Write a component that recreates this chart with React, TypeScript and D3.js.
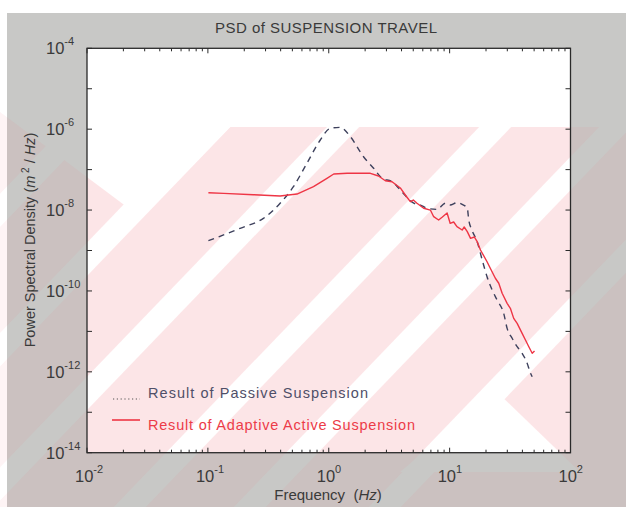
import React from 'react';
import * as d3 from 'd3';

// ---------- data ----------
const passiveFreq = [0.101, 0.185, 0.288, 0.396, 0.51, 0.659, 0.851, 1.03, 1.245, 1.51, 1.94, 2.35, 2.76,
  3.34, 3.91, 5.01, 5.73, 6.5, 7.87, 9.22, 10.1, 11.5, 12.7, 14.0, 14.4, 15.3, 16.9, 18.6, 20.4, 22.5,
  24.7, 28.0, 29.9, 32.9, 36.2, 39.8, 43.8, 46.7, 48.2];
const passivePsd = [1.75e-9, 3.54e-9, 6.25e-9, 1.47e-8, 3.78e-8, 1.43e-7, 5.4e-7, 1.05e-6, 1.11e-6, 6.52e-7,
  2.08e-7, 1.08e-7, 6.1e-8, 5.02e-8, 3.13e-8, 1.5e-8, 1.33e-8, 1.11e-8, 1.04e-8, 1.47e-8, 1.33e-8, 1.52e-8,
  1.39e-8, 1.11e-8, 5.68e-9, 3.21e-9, 1.65e-9, 5.82e-10, 2.25e-10, 1.05e-10, 5.97e-11, 2.8e-11, 1.19e-11,
  6.75e-12, 4.18e-12, 2.87e-12, 1.63e-12, 9.18e-13, 7.57e-13];

const activeFreq = [0.101, 0.135, 0.238, 0.396, 0.546, 0.748, 0.966, 1.1, 1.42, 2.21, 2.58, 2.94, 3.34, 3.91, 4.3,
  4.73, 5.01, 5.37, 6.1, 6.93, 7.38, 8.11, 8.71, 9.53, 10.1, 10.8, 11.5, 12.7, 13.2, 14.0, 14.9, 16.0, 16.9,
  18.0, 20.4, 21.7, 23.9, 25.5, 27.2, 29.9, 31.8, 33.9, 36.2, 39.8, 42.4, 45.2, 48.2, 50.4];
const activePsd = [2.69e-8, 2.59e-8, 2.4e-8, 2.23e-8, 2.49e-8, 3.78e-8, 6.1e-8, 7.8e-8, 8.11e-8, 8.11e-8, 6.95e-8,
  5.32e-8, 5.02e-8, 3.52e-8, 2.36e-8, 1.61e-8, 1.77e-8, 1.47e-8, 1.11e-8, 1.0e-8, 6.85e-9, 5.68e-9, 6.73e-9,
  8.45e-9, 4.71e-9, 5.07e-9, 3.88e-9, 3.21e-9, 3.81e-9, 2.92e-9, 2.0e-9, 2.16e-9, 1.65e-9, 1.03e-9, 5.28e-10,
  3.63e-10, 2.06e-10, 1.55e-10, 8.75e-11, 4.94e-11, 3.72e-11, 2.1e-11, 1.58e-11, 8.95e-12, 6.12e-12,
  4.18e-12, 2.87e-12, 3.27e-12];

const xDecades = [-2, -1, 0, 1, 2];
const yDecades = [-14, -13, -12, -11, -10, -9, -8, -7, -6, -5, -4];
const yLabelDecades = [-14, -12, -10, -8, -6, -4];
const legendLabels = ['Result of Passive Suspension', 'Result of Adaptive Active Suspension'];
const titleText = 'PSD of SUSPENSION TRAVEL';

// ---------- layout / style ----------
const W = 626, H = 507;
const L = 87, R = 570.5, T = 48.3, B = 452.7;
const FONT = 'Liberation Sans, Arial, sans-serif';
const TEXT = '#3a3a3a';
const PASSIVE = '#3d405c';
const ACTIVE = '#ee3545';

// watermark bands (center x at y=200, half width)
const bandCenters = [144, 273, 425, 545, 680, 10];
const bandHalf = 16;
const slope = 1.04;

function bandPoints(c: number) {
  const y0 = -20, y1 = 530;
  const xa = c - (y0 - 200) / slope;
  const xb = c - (y1 - 200) / slope;
  return `${xa - bandHalf},${y0} ${xa + bandHalf},${y0} ${xb + bandHalf},${y1} ${xb - bandHalf},${y1}`;
}

export default function App() {
  const x = d3.scaleLog().domain([1e-2, 1e2]).range([L, R]);
  const y = d3.scaleLog().domain([1e-14, 1e-4]).range([B, T]);
  const line = d3.line<[number, number]>().x(d => x(d[0])).y(d => y(d[1]));
  const smooth = d3.line<[number, number]>().x(d => x(d[0])).y(d => y(d[1])).curve(d3.curveMonotoneX);

  const passive: [number, number][] = passiveFreq.map((f, i) => [f, passivePsd[i]]);
  const active: [number, number][] = activeFreq.map((f, i) => [f, activePsd[i]]);

  const xTicks: { v: number; major: boolean }[] = [];
  for (let e = -2; e < 2; e++) {
    for (let k = 1; k <= 9; k++) xTicks.push({ v: k * Math.pow(10, e), major: k === 1 });
  }
  xTicks.push({ v: 100, major: true });

  return (
    <svg width={W} height={H} style={{ position: 'absolute', left: 0, top: 0, display: 'block' }}
      xmlns="http://www.w3.org/2000/svg">
      <defs>
        <mask id="wm">
          <rect x={0} y={0} width={W} height={H} fill="black" />
          <polygon points={`0,112 141.7,218 230,127 ${W},127 ${W},${H} 0,${H}`} fill="white" />
          {bandCenters.map((c, i) => (
            <polygon key={i} points={bandPoints(c)} fill="black" />
          ))}
          <polygon points="400,472 497,392 580,472" fill="black" />
          <path d={`M0,0H${W}V${H}H0Z M${L},${T}V${B}H${R}V${T}Z`} fill="black" fillOpacity={0.55} fillRule="evenodd" />
        </mask>
      </defs>
      <rect x={0} y={0} width={W} height={H} fill="#ffffff" />
      <rect x={7} y={13} width={W - 7} height={H - 13} fill="#c8c8c6" />
      <rect x={L} y={T} width={R - L} height={B - T} fill="#ffffff" />
      <rect x={0} y={0} width={W} height={H} fill="rgb(242,100,112)" opacity={0.16} mask="url(#wm)" />

      {/* frame */}
      <rect x={L} y={T} width={R - L} height={B - T} fill="none" stroke="#2a2a2a" strokeWidth={1.3} />

      {/* x ticks */}
      {xTicks.map((t, i) => {
        const len = t.major ? 5 : 3;
        const xx = x(t.v);
        return (
          <g key={i} stroke="#2a2a2a" strokeWidth={1}>
            <line x1={xx} x2={xx} y1={B} y2={B - len} />
            <line x1={xx} x2={xx} y1={T} y2={T + len} />
          </g>
        );
      })}
      {/* y ticks */}
      {yDecades.map(e => {
        const yy = y(Math.pow(10, e));
        return (
          <g key={e} stroke="#2a2a2a" strokeWidth={1}>
            <line x1={L} x2={L + 5} y1={yy} y2={yy} />
            <line x1={R} x2={R - 5} y1={yy} y2={yy} />
          </g>
        );
      })}

      {/* x tick labels */}
      {xDecades.map(e => (
        <text key={e} x={x(Math.pow(10, e)) - 12} y={482} fontFamily={FONT} fontSize={16.5} fill={TEXT}>
          10<tspan fontSize={11} dy={-9}>{e}</tspan>
        </text>
      ))}
      {/* y tick labels */}
      {yLabelDecades.map(e => (
        <text key={e} x={46} y={y(Math.pow(10, e)) + 6} fontFamily={FONT} fontSize={16.5} fill={TEXT}>
          10<tspan fontSize={11} dy={-9}>{e}</tspan>
        </text>
      ))}

      {/* curves */}
      <path d={smooth(passive) || ''} fill="none" stroke={PASSIVE} strokeWidth={1.4} strokeDasharray="6,5" />
      <path d={line(active) || ''} fill="none" stroke={ACTIVE} strokeWidth={1.4} strokeLinejoin="round" />

      {/* legend */}
      <line x1={113} x2={140} y1={399} y2={399} stroke="#555" strokeWidth={1.2} strokeDasharray="1.2,2.6" />
      <text x={148} y={398} fontFamily={FONT} fontSize={14.5} fill="#4f4f68" textLength={220} lengthAdjust="spacing">
        {legendLabels[0]}
      </text>
      <line x1={112} x2={140} y1={420} y2={420} stroke={ACTIVE} strokeWidth={1.6} />
      <text x={148} y={430} fontFamily={FONT} fontSize={14.5} fill="#ec3b48" textLength={267} lengthAdjust="spacing">
        {legendLabels[1]}
      </text>

      {/* title */}
      <text x={215} y={33} fontFamily={FONT} fontSize={15} fill={TEXT} textLength={222} lengthAdjust="spacing">
        {titleText}
      </text>
      {/* x label */}
      <text x={328} y={500} textAnchor="middle" fontFamily={FONT} fontSize={15} fill={TEXT}>
        Frequency{'\u00a0\u00a0'}(<tspan fontStyle="italic">Hz</tspan>)
      </text>
      {/* y label */}
      <text transform={`translate(35,240) rotate(-90)`} textAnchor="middle" fontFamily={FONT} fontSize={14.5} fill={TEXT}>
        Power Spectral Density (<tspan fontStyle="italic">m</tspan>
        <tspan fontSize={10} dy={-6}>{'\u00a02'}</tspan>
        <tspan dy={6}>{'\u00a0/\u00a0'}</tspan>
        <tspan fontStyle="italic">Hz</tspan>)
      </text>
    </svg>
  );
}
